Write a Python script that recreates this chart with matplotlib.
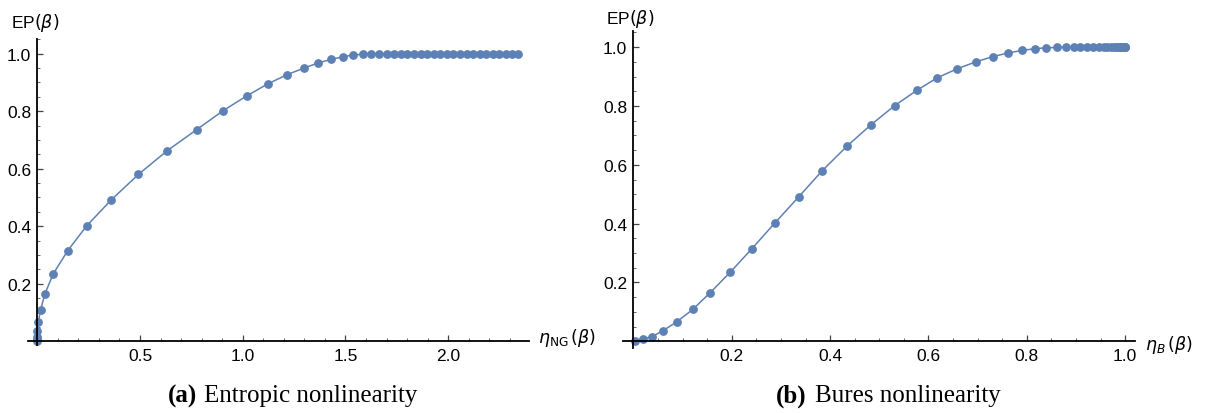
import matplotlib
matplotlib.use("Agg")
import matplotlib.pyplot as plt
from matplotlib.ticker import MultipleLocator, FixedLocator

plt.rcParams["font.family"] = ["Liberation Sans", "DejaVu Sans"]
plt.rcParams["mathtext.fontset"] = "dejavusans"

# shared EP(beta) values
ep = [0.002, 0.008, 0.016, 0.036, 0.067, 0.109, 0.165, 0.235, 0.315, 0.401,
      0.491, 0.580, 0.663, 0.736, 0.801, 0.854, 0.896, 0.927, 0.950, 0.968,
      0.980, 0.989, 0.995, 0.998, 0.999] + [1.000] * 22

eta_ng = [0.000, 0.000, 0.000, 0.001, 0.005, 0.016, 0.037, 0.078, 0.148, 0.240,
          0.359, 0.492, 0.633, 0.776, 0.903, 1.021, 1.125, 1.216, 1.298, 1.368,
          1.430, 1.487, 1.535, 1.584, 1.625, 1.665, 1.703, 1.738, 1.770, 1.801,
          1.834, 1.866, 1.898, 1.930, 1.962, 1.994, 2.026, 2.058, 2.090, 2.122,
          2.154, 2.186, 2.218, 2.249, 2.280, 2.311, 2.342]

eta_b = [0.003, 0.020, 0.038, 0.060, 0.089, 0.121, 0.156, 0.197, 0.241, 0.287,
         0.336, 0.384, 0.434, 0.483, 0.531, 0.577, 0.618, 0.659, 0.696, 0.731,
         0.761, 0.790, 0.817, 0.839, 0.862, 0.880, 0.896, 0.909, 0.923, 0.935,
         0.946, 0.956, 0.964, 0.971, 0.977, 0.982, 0.986, 0.989, 0.992, 0.994,
         0.996, 0.997, 0.998, 0.9985, 0.999, 0.9995, 1.000]

yticks = [0.2, 0.4, 0.6, 0.8, 1.0]
xticks_ng = [0.5, 1.0, 1.5, 2.0]
xticks_b = [0.2, 0.4, 0.6, 0.8, 1.0]

W, H = 1210, 414
COLOR = "#5E81B5"
fig = plt.figure(figsize=(W / 100, H / 100), dpi=100)


def px_axes(x0, x1, y_top, y_bot):
    return fig.add_axes([x0 / W, 1 - y_bot / H, (x1 - x0) / W, (y_bot - y_top) / H])


def style(ax, xt, xminor):
    for s in ("top", "right"):
        ax.spines[s].set_visible(False)
    for s in ("left", "bottom"):
        ax.spines[s].set_position(("data", 0))
        ax.spines[s].set_linewidth(1.3)
        ax.spines[s].set_color("black")
    ax.patch.set_alpha(0)
    ax.xaxis.set_major_locator(FixedLocator(xt))
    ax.xaxis.set_minor_locator(MultipleLocator(xminor))
    ax.yaxis.set_major_locator(FixedLocator(yticks))
    ax.yaxis.set_minor_locator(MultipleLocator(0.05))
    ax.set_xticklabels([f"{v:.1f}" for v in xt])
    ax.set_yticklabels([f"{v:.1f}" for v in yticks])
    ax.tick_params(which="major", direction="in", length=4, width=0.9,
                   color="#444444", labelsize=12.5)
    ax.tick_params(which="minor", direction="in", length=2, width=0.7,
                   color="#666666")
    ax.tick_params(axis="x", pad=5)
    ax.tick_params(axis="y", pad=4.5)


# (a) entropic nonlinearity
ax1 = px_axes(27.7, 529.3, 40, 346)
ax1.plot(eta_ng, ep, color=COLOR, lw=1.1, marker="o", ms=5.3, clip_on=False)
ax1.set_xlim(-0.0467, 2.395)
ax1.set_ylim(-0.0129, 1.051)
style(ax1, xticks_ng, 0.1)

# (b) Bures nonlinearity
ax2 = px_axes(622.7, 1135, 32.3, 349)
ax2.plot(eta_b, ep, color=COLOR, lw=1.1, marker="o", ms=5.3, clip_on=False)
ax2.set_xlim(-0.0218, 1.020)
ax2.set_ylim(-0.0228, 1.054)
style(ax2, xticks_b, 0.05)

# axis labels
fig.text(11 / W, 1 - 23 / H, r"EP$(\beta)$", fontsize=12.5, va="center")
fig.text(606 / W, 1 - 19 / H, r"EP$(\beta)$", fontsize=12.5, va="center")
fig.text(538 / W, 1 - 338 / H, r"$\eta_{\mathsf{NG}}\,(\beta)$", fontsize=12.5, va="center")
fig.text(1145 / W, 1 - 345 / H, r"$\eta_B\,(\beta)$", fontsize=12.5, va="center")

# captions
cap = dict(family=["Liberation Serif", "DejaVu Serif"], fontsize=18, va="center")
fig.text(168 / W, 1 - 396 / H, "(a)", fontweight="bold", **cap)
fig.text(204 / W, 1 - 396 / H, "Entropic nonlinearity", **cap)
fig.text(776 / W, 1 - 396 / H, "(b)", fontweight="bold", **cap)
fig.text(815 / W, 1 - 396 / H, "Bures nonlinearity", **cap)

fig.savefig("out.png", dpi=100)
